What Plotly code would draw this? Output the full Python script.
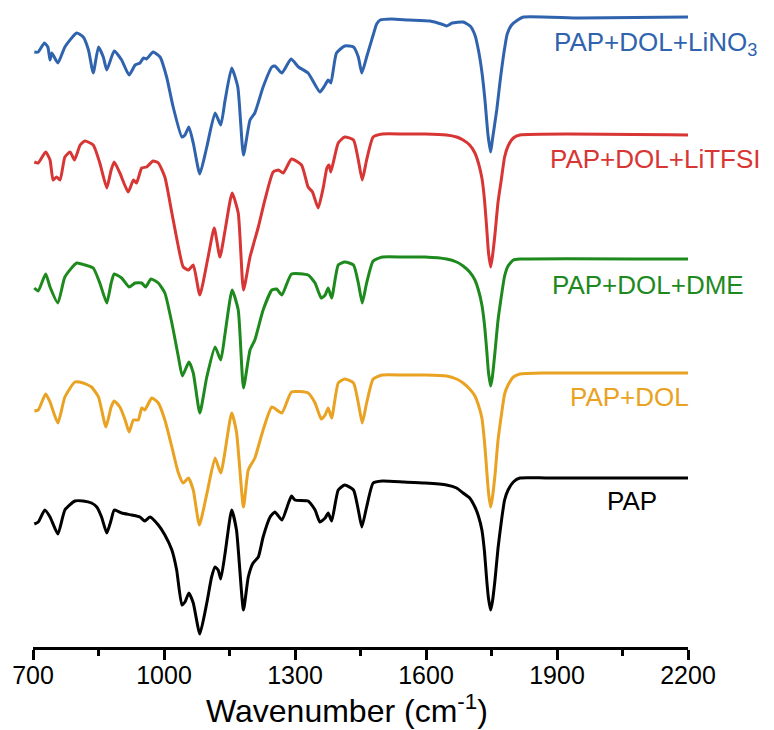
import plotly.graph_objects as go

# FTIR spectra, stacked with a vertical offset (transmittance, a.u.)
# PAP
wn_pap = [703, 712, 727, 739, 757, 773, 796, 815, 834, 846, 857, 869, 879, 886, 903, 926,
          945, 956, 968, 987, 1002, 1018, 1029, 1041, 1048, 1057, 1067, 1082, 1098, 1109,
          1117, 1124, 1130, 1140, 1155, 1166, 1182, 1193, 1204, 1216, 1227, 1243, 1254,
          1270, 1285, 1292, 1300, 1330, 1346, 1357, 1369, 1376, 1384, 1399, 1414, 1434,
          1445, 1453, 1464, 1479, 1500, 1550, 1598, 1647, 1670, 1685, 1700, 1712, 1720,
          1728, 1734, 1739, 1743, 1748, 1752, 1758, 1765, 1773, 1780, 1788, 1800, 1815,
          1876, 2028, 2200]
t_pap = [12.6, 12.8, 14.0, 13.3, 11.6, 14.0, 14.9, 14.9, 14.7, 14.3, 13.3, 11.7, 13.0, 14.0,
         13.7, 13.5, 13.3, 12.9, 13.3, 12.5, 11.5, 10.0, 8.0, 4.5, 4.8, 5.7, 4.7, 1.6, 4.7,
         7.3, 8.3, 8.0, 7.1, 9.7, 14.0, 12.0, 4.0, 7.3, 8.7, 9.3, 11.3, 13.3, 13.8, 13.0,
         14.7, 15.4, 15.0, 14.9, 14.0, 12.8, 13.2, 13.7, 12.9, 16.0, 16.5, 16.0, 14.0, 12.3,
         14.3, 16.7, 16.9, 16.8, 16.7, 16.5, 16.2, 15.7, 15.2, 14.3, 13.4, 12.0, 9.8, 7.0,
         5.2, 4.0, 4.8, 7.0, 10.2, 13.0, 15.0, 16.0, 16.8, 17.2, 17.2, 17.2, 17.2]

# PAP+DOL
wn_dol = [703, 712, 729, 739, 757, 773, 796, 815, 834, 850, 867, 879, 886, 899, 911, 920,
          930, 941, 949, 956, 972, 987, 1002, 1018, 1033, 1044, 1056, 1067, 1081, 1098,
          1117, 1130, 1155, 1166, 1182, 1193, 1208, 1227, 1247, 1270, 1292, 1330, 1346,
          1360, 1369, 1376, 1384, 1399, 1414, 1434, 1445, 1454, 1464, 1479, 1500, 1550,
          1598, 1647, 1670, 1685, 1700, 1712, 1720, 1728, 1734, 1739, 1743, 1748, 1752,
          1758, 1765, 1773, 1780, 1788, 1800, 1815, 1876, 2200]
t_dol = [23.9, 24.0, 25.6, 24.8, 22.7, 25.3, 26.8, 26.7, 26.3, 25.3, 22.3, 24.3, 24.9, 24.3,
         23.0, 21.8, 23.0, 23.0, 24.2, 24.0, 25.2, 24.7, 23.0, 20.3, 17.7, 16.7, 17.2, 16.0,
         12.5, 15.6, 19.2, 17.7, 23.7, 21.8, 14.3, 18.0, 19.2, 22.0, 24.3, 23.7, 25.8, 25.7,
         24.7, 23.1, 23.5, 24.2, 23.2, 26.7, 27.1, 26.7, 24.7, 22.7, 24.7, 27.1, 27.5, 27.5,
         27.5, 27.4, 27.1, 26.7, 26.1, 25.4, 24.5, 23.2, 20.8, 18.0, 15.8, 14.3, 15.2, 17.5,
         21.0, 23.6, 25.6, 26.5, 27.3, 27.6, 27.7, 27.7]

# PAP+DOL+DME
wn_dme = [703, 712, 729, 739, 757, 773, 800, 819, 838, 853, 869, 879, 886, 903, 920, 934,
          949, 958, 970, 987, 1002, 1018, 1033, 1042, 1057, 1067, 1082, 1098, 1117, 1130,
          1140, 1156, 1170, 1182, 1197, 1208, 1227, 1247, 1258, 1270, 1292, 1330, 1346,
          1360, 1369, 1376, 1384, 1399, 1414, 1434, 1445, 1454, 1464, 1479, 1500, 1550,
          1598, 1647, 1670, 1685, 1700, 1712, 1720, 1728, 1734, 1739, 1743, 1748, 1752,
          1758, 1765, 1773, 1780, 1788, 1800, 1815, 2200]
t_dme = [36.2, 35.9, 37.6, 36.3, 34.7, 37.3, 38.7, 38.5, 38.2, 36.7, 34.7, 36.7, 37.6, 37.2,
         36.3, 36.7, 36.7, 36.3, 37.1, 36.7, 35.7, 32.7, 29.3, 27.4, 28.8, 27.7, 23.7, 27.3,
         30.3, 29.0, 31.7, 36.0, 34.0, 26.2, 30.0, 31.0, 34.0, 36.0, 36.1, 35.5, 37.6, 37.5,
         36.7, 35.2, 35.5, 36.2, 35.2, 38.5, 38.8, 38.5, 36.7, 34.7, 36.7, 38.9, 39.3, 39.3,
         39.3, 39.1, 38.8, 38.4, 37.8, 37.0, 36.0, 34.5, 32.5, 30.0, 27.8, 26.4, 27.3, 29.8,
         33.0, 35.5, 37.4, 38.4, 39.0, 39.1, 39.1]

# PAP+DOL+LiTFSI
wn_tfsi = [703, 712, 729, 739, 746, 754, 762, 773, 785, 795, 808, 819, 838, 853, 869, 879,
           886, 899, 918, 930, 937, 949, 960, 975, 987, 1002, 1018, 1033, 1044, 1056, 1067,
           1082, 1101, 1115, 1128, 1140, 1156, 1170, 1182, 1197, 1216, 1231, 1250, 1262,
           1273, 1292, 1315, 1330, 1340, 1353, 1365, 1373, 1378, 1382, 1399, 1414, 1434,
           1445, 1454, 1464, 1479, 1500, 1550, 1598, 1647, 1670, 1685, 1700, 1712, 1720,
           1728, 1734, 1739, 1743, 1748, 1752, 1758, 1765, 1773, 1780, 1788, 1800, 1815,
           2200]
t_tfsi = [48.8, 48.7, 49.8, 49.0, 47.0, 47.3, 47.0, 49.3, 49.8, 49.0, 50.5, 50.9, 50.5, 48.7,
          46.2, 48.0, 48.8, 47.7, 45.8, 47.0, 46.7, 48.2, 48.3, 48.9, 48.7, 47.3, 43.7, 40.3,
          38.3, 38.0, 38.5, 35.5, 39.3, 42.2, 39.3, 42.0, 45.7, 43.7, 36.0, 39.3, 42.3, 45.0,
          47.8, 48.0, 47.7, 49.1, 48.5, 46.3, 45.8, 44.2, 46.3, 48.2, 48.5, 47.8, 50.7, 51.3,
          51.0, 49.0, 47.0, 49.0, 51.3, 51.6, 51.6, 51.6, 51.5, 51.3, 51.0, 50.5, 49.7, 48.7,
          47.2, 45.0, 42.2, 39.8, 38.3, 39.3, 41.6, 44.8, 47.2, 49.3, 50.4, 51.2, 51.5, 51.5]

# PAP+DOL+LiNO3
wn_lino3 = [703, 712, 726, 734, 739, 743, 757, 773, 800, 815, 827, 838, 850, 861, 869, 886,
            903, 920, 934, 945, 953, 960, 975, 991, 1006, 1021, 1041, 1048, 1057, 1067, 1082,
            1098, 1117, 1130, 1140, 1155, 1169, 1182, 1197, 1208, 1227, 1247, 1254, 1270,
            1291, 1308, 1330, 1357, 1369, 1376, 1382, 1395, 1414, 1434, 1445, 1453, 1464,
            1479, 1487, 1495, 1521, 1560, 1609, 1635, 1647, 1660, 1685, 1701, 1712, 1720,
            1728, 1735, 1742, 1748, 1752, 1762, 1770, 1777, 1786, 1796, 1810, 1823, 1953,
            2200]
t_lino3 = [59.8, 59.8, 60.7, 60.3, 59.0, 59.7, 58.7, 60.3, 61.7, 61.3, 60.0, 57.7, 60.3, 59.3,
           58.0, 59.9, 59.0, 57.5, 58.5, 58.7, 59.2, 59.1, 59.8, 59.3, 57.3, 54.3, 51.3, 51.5,
           52.3, 50.7, 47.6, 50.3, 53.7, 52.5, 55.0, 58.2, 56.3, 49.5, 53.0, 53.7, 56.3, 58.3,
           58.4, 57.7, 59.1, 58.3, 57.7, 55.8, 56.5, 57.0, 56.7, 59.7, 60.4, 60.3, 59.3, 57.7,
           59.3, 61.5, 62.6, 63.0, 63.1, 63.0, 62.9, 62.6, 62.4, 62.7, 62.8, 62.4, 61.5, 60.0,
           57.8, 55.0, 51.5, 49.8, 51.0, 54.0, 57.0, 59.3, 61.6, 62.5, 63.0, 63.3, 63.2, 63.3]

series = [
    ("PAP", wn_pap, t_pap, "#000000"),
    ("PAP+DOL", wn_dol, t_dol, "#e9a222"),
    ("PAP+DOL+DME", wn_dme, t_dme, "#1e8a1e"),
    ("PAP+DOL+LiTFSI", wn_tfsi, t_tfsi, "#d83535"),
    ("PAP+DOL+LiNO<sub>3</sub>", wn_lino3, t_lino3, "#2f63ad"),
]

# label anchor points (wavenumber, a.u.)
label_x = [2010, 1925, 1884, 1879, 1888]
label_y = [14.9, 25.3, 36.5, 49.1, 60.7]

FONT = "Liberation Sans, Arial, sans-serif"

fig = go.Figure()
for name, x, y, color in series:
    fig.add_trace(go.Scatter(
        x=x, y=y, mode="lines", name=name,
        line=dict(color=color, width=3, shape="spline", smoothing=0.5),
        showlegend=False,
    ))

for (name, x, y, color), lx, ly in zip(series, label_x, label_y):
    fig.add_annotation(
        x=lx, y=ly, xref="x", yref="y", text=name, showarrow=False,
        xanchor="left", yanchor="middle",
        font=dict(family=FONT, size=26, color=color),
    )

fig.add_annotation(
    x=0.479, y=-0.097, xref="paper", yref="paper",
    text="Wavenumber (cm<sup>-1</sup>)", showarrow=False,
    xanchor="center", yanchor="middle",
    font=dict(family=FONT, size=32, color="#000000"),
)

fig.update_xaxes(
    range=[700, 2200], tick0=700, dtick=300,
    showline=True, linecolor="#000000", linewidth=2.5,
    ticks="outside", ticklen=10, tickwidth=2.5, tickcolor="#000000",
    minor=dict(dtick=150, tick0=700, ticks="outside", ticklen=6, tickwidth=2.5,
               tickcolor="#000000"),
    showgrid=False, zeroline=False,
    ticklabelstandoff=-6,
    tickfont=dict(family=FONT, size=25, color="#000000"),
)
fig.update_yaxes(range=[0.3, 64], visible=False, showgrid=False, zeroline=False)

fig.update_layout(
    width=774, height=730,
    margin=dict(l=33, r=86, t=10, b=83),
    paper_bgcolor="#ffffff", plot_bgcolor="#ffffff",
)

fig.write_html("out.html")
